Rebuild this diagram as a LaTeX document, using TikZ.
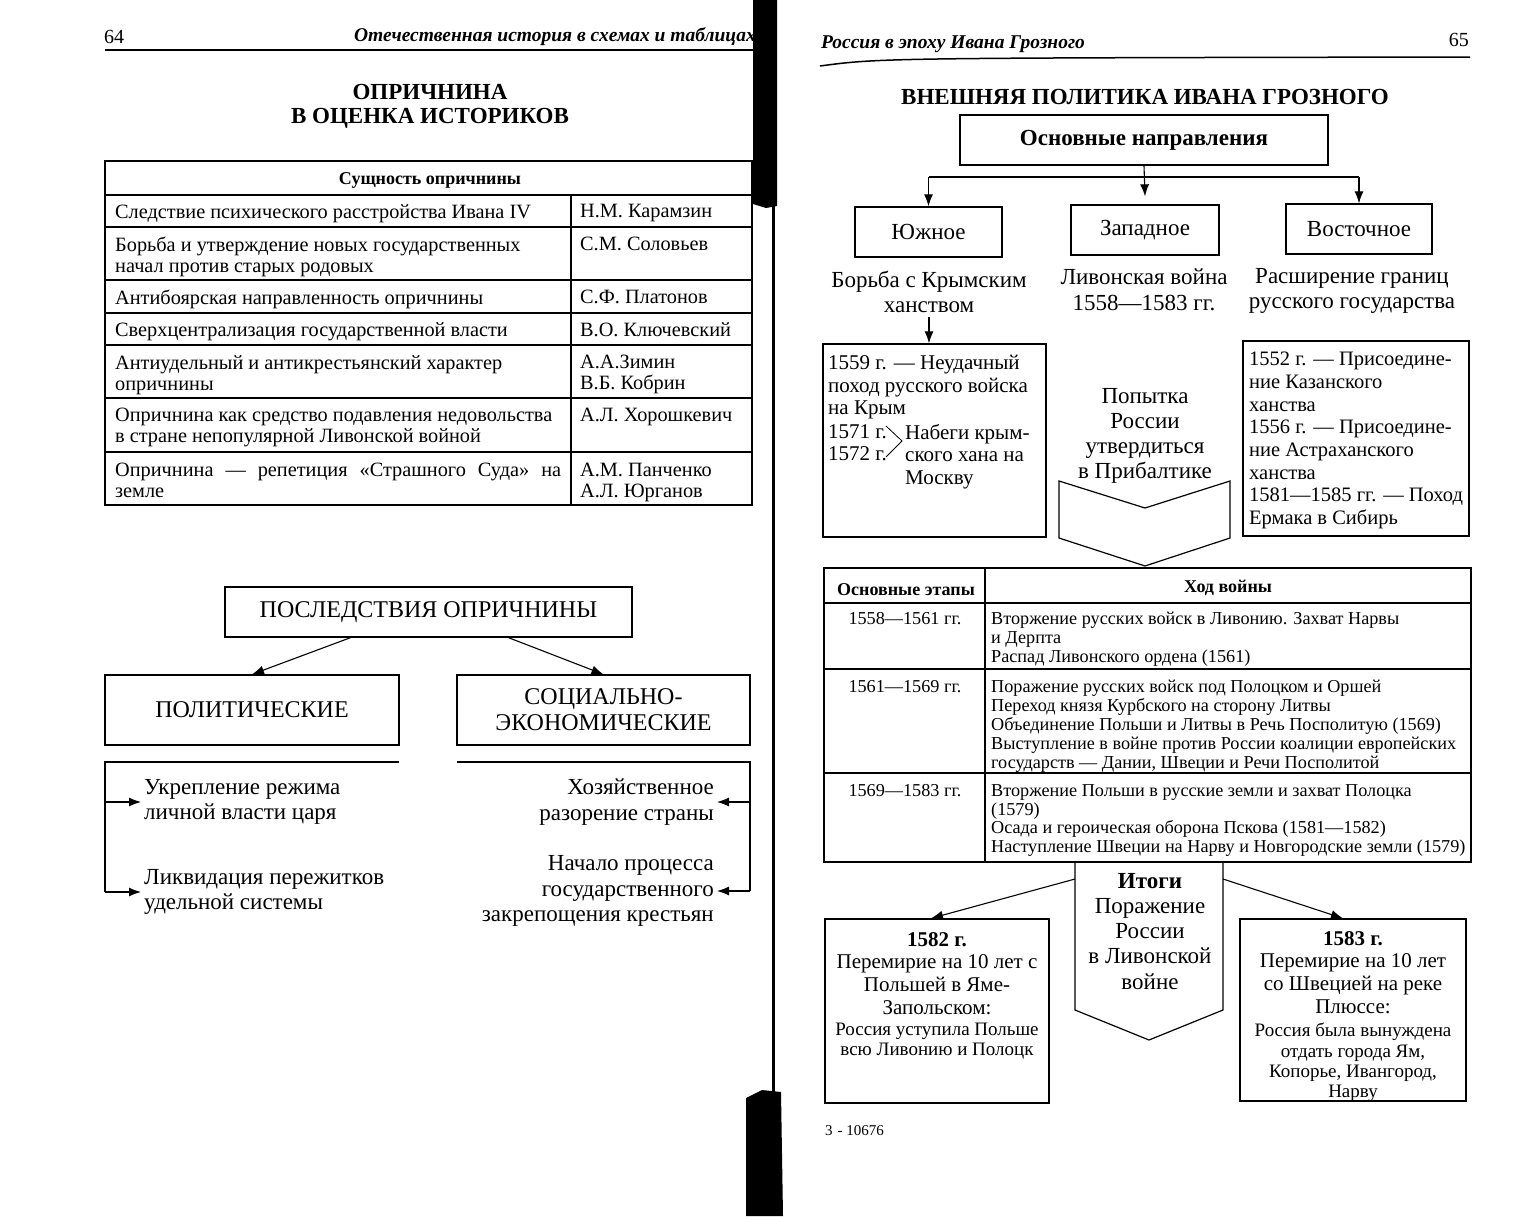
\documentclass[tikz,border=0pt]{standalone}
\usepackage{fontspec}
\setmainfont{Liberation Serif}
\usetikzlibrary{arrows.meta,calc}

\newcommand\szhead{\fontsize{19.5}{24}\selectfont\bfseries\itshape}
\newcommand\sznum{\fontsize{20}{24}\selectfont}
\newcommand\sztitle{\fontsize{23}{24}\selectfont\bfseries}
\newcommand\sztab{\fontsize{20.3}{21}\selectfont}
\newcommand\sztabhd{\fontsize{18}{20}\selectfont\bfseries}
\newcommand\szcaps{\fontsize{24}{26}\selectfont}
\newcommand\szmid{\fontsize{23}{25.2}\selectfont}
\newcommand\szbox{\fontsize{21}{22.7}\selectfont}
\newcommand\szeast{\fontsize{20.5}{22.7}\selectfont}
\newcommand\szwar{\fontsize{18.2}{18.9}\selectfont}
\newcommand\szres{\fontsize{21}{22.7}\selectfont}
\newcommand\szsmall{\fontsize{19}{20.3}\selectfont}

\tikzset{
  frame/.style={draw, line width=1.3pt, inner sep=0pt},
  rule/.style={line width=1.3pt},
  arr/.style={line width=1.1pt, -{Latex[length=12pt,width=9pt]}},
  txt/.style={inner sep=0pt, align=left},
  ctxt/.style={inner sep=0pt, align=center},
}

\begin{document}
\begin{tikzpicture}[x=1pt,y=-1pt]
\useasboundingbox (0,0) rectangle (1534,1216);

\fill (753,0) -- (777,0) -- (777,206) -- (766,208) -- (753,204) -- cycle;
\draw[line width=3pt] (773,206) -- (773,1095);
\fill (746,1216) -- (746,1098) -- (762,1090) -- (781,1092) -- (783,1216) -- cycle;

\node[inner sep=0, anchor=west, font=\sznum] (p64) at (104,37) {64};
\node[inner sep=0, anchor=east, font=\szhead] (hleft) at (756,37) {Отечественная история в схемах и таблицах};
\draw[line width=1.5pt] (105,50) -- (756,50);

\node[ctxt, anchor=north, font=\sztitle] (optitle) at (430,84) {ОПРИЧНИНА\\В ОЦЕНКА ИСТОРИКОВ};

\draw[rule] (105,161) rectangle (752,505);
\foreach \y in {195,227,280,313,345,398,452}
  \draw[rule] (105,\y) -- (752,\y);
\draw[rule] (571,195) -- (571,505);
\node[inner sep=0, font=\sztabhd] (essence) at (430,180) {Сущность опричнины};

\foreach \y/\a/\b in {
  204/{Следствие психического расстройства Ивана IV}/{Н.М. Карамзин},
  237/{Борьба и утверждение новых государственных\\начал против старых родовых}/{С.М. Соловьев},
  290/{Антибоярская направленность опричнины}/{С.Ф. Платонов},
  322/{Сверхцентрализация государственной власти}/{В.О. Ключевский},
  355/{Антиудельный и антикрестьянский характер\\опричнины}/{А.А.Зимин\\В.Б. Кобрин},
  408/{Опричнина как средство подавления недовольства\\в стране непопулярной Ливонской войной}/{А.Л. Хорошкевич},
  463/{\makebox[446pt][s]{Опричнина — репетиция «Страшного Суда» на}\\земле}/{А.М. Панченко\\А.Л. Юрганов}}
{
  \node[txt, anchor=north west, font=\sztab] (what\y) at (115,\y) {\a};
  \node[txt, anchor=north west, font=\sztab] (who\y) at (580,\y) {\b};
}

\node[frame, minimum width=407, minimum height=50, font=\szcaps] (posl) at (428.5,612) {ПОСЛЕДСТВИЯ ОПРИЧНИНЫ};
\node[frame, minimum width=294, minimum height=70, font=\szcaps] (polit) at (252,710) {ПОЛИТИЧЕСКИЕ};
\node[frame, minimum width=293, minimum height=70, font=\szcaps, align=center] (socec) at (603.5,710) {СОЦИАЛЬНО-\\ЭКОНОМИЧЕСКИЕ};
\draw[arr] ($(posl.south)+(-78,0)$) -- (polit.north);
\draw[arr] ($(posl.south)+(80,0)$) -- (socec.north);

\node[txt, anchor=west, font=\szmid] (regime) at (144,802) {Укрепление режима\\личной власти царя};
\node[txt, anchor=west, font=\szmid] (udel) at (144,892) {Ликвидация пережитков\\удельной системы};
\node[inner sep=0, align=right, anchor=east, font=\szmid] (ruin) at (714,802) {Хозяйственное\\разорение страны};
\node[inner sep=0, align=right, anchor=east, font=\szmid] (serf) at (714,891) {Начало процесса\\государственного\\закрепощения крестьян};

\coordinate (lcorner) at (105,762);
\coordinate (rcorner) at (750,762);
\draw[line width=1.2pt] (399,762) -- (lcorner) -- (lcorner |- udel.west);
\draw[arr] (lcorner |- regime.west) -- ++(36,0);
\draw[arr] (lcorner |- udel.west) -- ++(36,0);
\draw[line width=1.2pt] (457,762) -- (rcorner) -- (rcorner |- serf.east);
\draw[arr] (rcorner |- ruin.east) -- ++(-33,0);
\draw[arr] (rcorner |- serf.east) -- ++(-33,0);

\node[inner sep=0, anchor=west, font=\szhead] (hright) at (821,44) {Россия в эпоху Ивана Грозного};
\node[inner sep=0, anchor=east, font=\sznum] (p65) at (1469,40) {65};
\draw[line width=1.5pt] (820,66) .. controls (880,58) .. (1470,57);

\node[inner sep=0, font=\sztitle] (wtitle) at (1145,97) {ВНЕШНЯЯ ПОЛИТИКА ИВАНА ГРОЗНОГО};
\node[frame, minimum width=368, minimum height=50, font=\sztitle] (napr) at (1144,140) {Основные направления};

\node[frame, minimum width=147, minimum height=50, font=\szmid] (south) at (928.5,232) {Южное};
\node[frame, minimum width=148, minimum height=50, font=\szmid] (west) at (1145,230) {Западное};
\node[frame, minimum width=146, minimum height=50, font=\szmid] (east) at (1359,229) {Восточное};

\coordinate (fork) at (1144,177);
\draw[line width=1.2pt] (fork -| south.north) -- (fork -| east.north);
\draw[arr] (napr.south) -- ($(west.north)+(0,-8)$);
\draw[arr] (fork -| south.north) -- (south.north);
\draw[arr] (fork -| east.north) -- (east.north);

\node[ctxt, anchor=north, font=\szmid] (crimea) at (929,271) {Борьба с Крымским\\ханством};
\node[ctxt, anchor=north, font=\szmid] (livwar) at (1144,269) {Ливонская война\\1558—1583 гг.};
\node[ctxt, anchor=north, font=\szmid] (border) at (1352,268) {Расширение границ\\русского государства};

\node[frame, minimum width=223, minimum height=193] (kbox) at (934.5,440.5) {};
\draw[arr] (crimea.south) ++(0,4) -- (crimea.south |- kbox.north);
\node[txt, anchor=north west, font=\szbox] (k1559) at (828,355) {1559 г. — Неудачный\\поход русского войска\\на Крым};
\node[txt, anchor=north west, font=\szbox] (k1571) at (828,424) {1571 г.\\1572 г.};
\node[txt, anchor=north west, font=\szbox] (kraid) at (905,424) {Набеги крым-\\ского хана на\\Москву};
\draw[line width=0.8pt] (886,426) -- (902,441) -- (886,457);

\node[ctxt, anchor=north, font=\szmid] (baltic) at (1145,388) {Попытка\\России\\утвердиться\\в Прибалтике};
\draw[line width=1.2pt] (1059,481) -- (1145,508) -- (1230,481) -- (1230,538) -- (1145,566) -- (1059,538) -- cycle;

\node[frame, minimum width=226, minimum height=195] (ebox) at (1356,438.5) {};
\node[txt, anchor=north west, font=\szeast] (eland) at (1249,352) {1552 г. — Присоедине-\\ние Казанского\\ханства\\1556 г. — Присоедине-\\ние Астраханского\\ханства\\1581—1585 гг. — Поход\\Ермака в Сибирь};

\draw[rule] (824,568) rectangle (1471,862);
\draw[rule] (824,603) -- (1471,603);
\draw[rule] (824,669) -- (1471,669);
\draw[rule] (824,773) -- (1471,773);
\draw[rule] (985,568) -- (985,862);
\node[inner sep=0, font=\sztabhd] (stages) at (906,590) {Основные этапы};
\node[inner sep=0, font=\sztabhd] (course) at (1228,588) {Ход войны};

\foreach \y/\a/\b in {
  612/{1558—1561 гг.}/{Вторжение русских войск в Ливонию. Захват Нарвы\\и Дерпта\\Распад Ливонского ордена (1561)},
  680/{1561—1569 гг.}/{Поражение русских войск под Полоцком и Оршей\\Переход князя Курбского на сторону Литвы\\Объединение Польши и Литвы в Речь Посполитую (1569)\\Выступление в войне против России коалиции европейских\\государств — Дании, Швеции и Речи Посполитой},
  784/{1569—1583 гг.}/{Вторжение Польши в русские земли и захват Полоцка\\(1579)\\Осада и героическая оборона Пскова (1581—1582)\\Наступление Швеции на Нарву и Новгородские земли (1579)}}
{
  \node[inner sep=0, anchor=north, font=\szwar] (stage\y) at (905,\y) {\a};
  \node[txt, anchor=north west, font=\szwar] (event\y) at (991,\y) {\b};
}

\draw[line width=1.2pt] (1075,862) -- (1075,1010) -- (1149,1040) -- (1223,1010) -- (1223,862);
\node[ctxt, anchor=north, font=\szmid] (result) at (1150,873) {\textbf{Итоги}\\Поражение\\России\\в Ливонской\\войне};
\coordinate (resL) at (1075,879);
\coordinate (resR) at (1223,879);

\node[frame, minimum width=224, minimum height=184] (truce1) at (937,1011) {};
\node[frame, minimum width=226, minimum height=182] (truce2) at (1353,1010) {};
\draw[arr] (resL) -- ($(truce1.north)+(-6,0)$);
\draw[arr] (resR) -- ($(truce2.north)+(-10,0)$);

\node[ctxt, anchor=north, font=\szres] (t1head) at (937,932) {\textbf{1582 г.}\\Перемирие на 10 лет с\\Польшей в Яме-\\Запольском:};
\node[ctxt, anchor=north, font=\szsmall] (t1note) at (937,1023) {Россия уступила Польше\\всю Ливонию и Полоцк};
\node[ctxt, anchor=north, font=\szres] (t2head) at (1353,931) {\textbf{1583 г.}\\Перемирие на 10 лет\\со Швецией на реке\\Плюссе:};
\node[ctxt, anchor=north, font=\szsmall] (t2note) at (1353,1023) {Россия была вынуждена\\отдать города Ям,\\Копорье, Ивангород,\\Нарву};

\node[inner sep=0, anchor=west, font=\fontsize{15}{17}\selectfont] (sig) at (825,1131) {3\,\,- 10676};
\end{tikzpicture}
\end{document}
